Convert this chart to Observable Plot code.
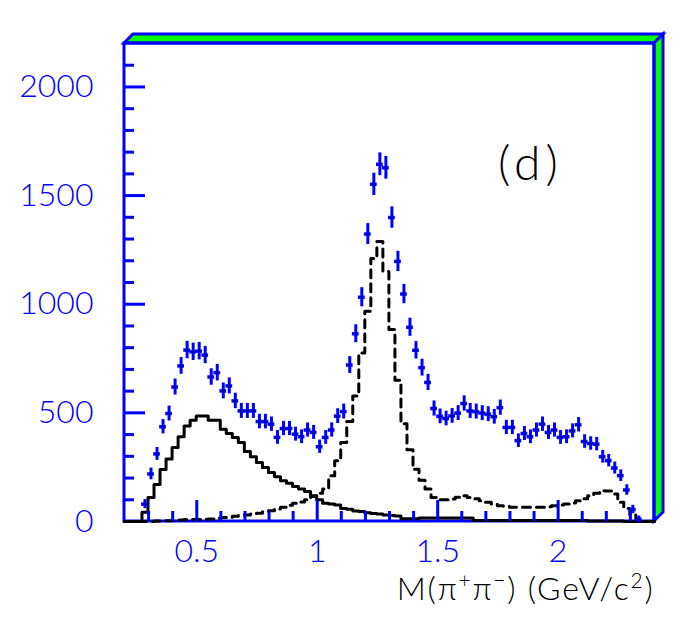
<!DOCTYPE html>
<html><head><meta charset="utf-8">
<script src="https://cdn.jsdelivr.net/npm/d3@7"></script>
<script src="https://cdn.jsdelivr.net/npm/@observablehq/plot@0.6"></script>
<style>body{margin:0;background:#fff} svg text{font-weight:300}</style>
</head><body><div id="chart"></div>
<script>
// bin centres (GeV/c^2), 0.025 GeV bins
const massCenters = [0.285, 0.31, 0.335, 0.36, 0.385, 0.41, 0.435, 0.46, 0.485, 0.51,
  0.535, 0.56, 0.585, 0.61, 0.635, 0.66, 0.685, 0.71, 0.735, 0.76,
  0.785, 0.81, 0.835, 0.86, 0.885, 0.91, 0.935, 0.96, 0.985, 1.01,
  1.035, 1.06, 1.085, 1.11, 1.135, 1.16, 1.185, 1.21, 1.235, 1.26,
  1.285, 1.31, 1.335, 1.36, 1.385, 1.41, 1.435, 1.46, 1.485, 1.51,
  1.535, 1.56, 1.585, 1.61, 1.635, 1.66, 1.685, 1.71, 1.735, 1.76,
  1.785, 1.81, 1.835, 1.86, 1.885, 1.91, 1.935, 1.96, 1.985, 2.01,
  2.035, 2.06, 2.085, 2.11, 2.135, 2.16, 2.185, 2.21, 2.235, 2.26,
  2.285, 2.31, 2.335];
// data (blue points)
const dataCounts = [80, 219, 311, 436, 497, 619, 716, 789, 781, 784,
  766, 665, 685, 601, 624, 555, 509, 509, 509, 460,
  460, 448, 387, 428, 428, 402, 390, 421, 410, 344,
  387, 421, 485, 506, 720, 864, 1032, 1323, 1552, 1644,
  1628, 1399, 1197, 1047, 894, 788, 708, 640, 520, 484,
  474, 486, 499, 543, 509, 506, 499, 494, 482, 524,
  433, 433, 372, 405, 390, 421, 448, 410, 421, 387,
  390, 417, 445, 368, 359, 356, 298, 280, 246, 211,
  145, 55, 10];
// solid histogram
const solidHist = [43, 111, 170, 239, 288, 341, 390, 440, 466, 486,
  486, 466, 466, 425, 405, 387, 364, 322, 298, 272,
  249, 226, 206, 188, 176, 161, 150, 138, 118, 100,
  84, 80, 76, 60, 56, 48, 46, 40, 37, 35,
  30, 28, 25, 13, 13, 13, 16, 16, 16, 16,
  16, 16, 16, 16, 16, 5, 5, 5, 5, 5,
  5, 5, 5, 5, 5, 5, 5, 5, 5, 5,
  5, 5, 5, 5, 2, 2, 2, 2, 2, 2,
  0, 0, 0];
// dashed histogram
const dashedHist = [0, 0, 2, 3, 4, 5, 7, 9, 9, 9,
  10, 12, 15, 18, 20, 24, 28, 30, 35, 38,
  45, 50, 58, 66, 75, 84, 90, 100, 115, 130,
  150, 210, 280, 364, 460, 578, 776, 968, 1210, 1289,
  1151, 884, 650, 450, 330, 240, 190, 150, 110, 100,
  100, 103, 112, 119, 110, 105, 95, 89, 80, 73,
  70, 66, 66, 66, 66, 66, 66, 68, 73, 76,
  81, 85, 95, 105, 119, 130, 142, 140, 127, 89,
  60, 30, 10];

const xMajorTicks = [0.5, 1, 1.5, 2];
const xMinorTicks = [0.3, 0.4, 0.6, 0.7, 0.8, 0.9, 1.1, 1.2, 1.3, 1.4, 1.6, 1.7, 1.8, 1.9, 2.1, 2.2, 2.3];
const yMajorTicks = [500, 1000, 1500, 2000];
const yLabelTicks = [0, 500, 1000, 1500, 2000];
const yMinorTicks = [100, 200, 300, 400, 600, 700, 800, 900, 1100, 1200, 1300, 1400, 1600, 1700, 1800, 1900, 2100];
const xLabel = "M(π+π−) (GeV/c2)";
const panelLabel = "(d)";

const BLUE = "#0000ff", GREEN = "#00ff00";
const halfBin = 0.0125;
const points = massCenters.map((m, i) => ({m, n: dataCounts[i]}));
function steps(vals) {
  const pts = [{x: 0.2, y: 0}];
  vals.forEach((v, i) => pts.push({x: massCenters[i] - halfBin, y: v}));
  pts.push({x: massCenters[massCenters.length - 1] + halfBin, y: 0});
  pts.push({x: 2.4, y: 0});
  return pts;
}

function frameBands(index, scales, values, dims) {
  const x0 = dims.marginLeft, x1 = dims.width - dims.marginRight;
  const y0 = dims.marginTop, y1 = dims.height - dims.marginBottom;
  const d = 9;
  const g = d3.create("svg:g").attr("fill", GREEN).attr("stroke", BLUE).attr("stroke-width", 3);
  g.append("path").attr("d", `M${x0},${y0}L${x0 + d},${y0 - d}L${x1 + d},${y0 - d}L${x1},${y0}Z`);
  g.append("path").attr("d", `M${x1},${y0}L${x1 + d},${y0 - d}L${x1 + d},${y1 - d}L${x1},${y1}Z`);
  return g.node();
}
function frameRect(index, scales, values, dims) {
  const x0 = dims.marginLeft, x1 = dims.width - dims.marginRight;
  const y0 = dims.marginTop, y1 = dims.height - dims.marginBottom;
  return d3.create("svg:rect").attr("x", x0).attr("y", y0).attr("width", x1 - x0).attr("height", y1 - y0)
    .attr("fill", "none").attr("stroke", BLUE).attr("stroke-width", 3).node();
}

const plot = Plot.plot({
  width: 681, height: 630,
  marginLeft: 124, marginRight: 27, marginTop: 43, marginBottom: 109,
  x: {domain: [0.2, 2.4]},
  y: {domain: [0, 2200]},
  style: {fontFamily: "Lato, Liberation Sans, sans-serif", background: "white"},
  marks: [
    frameBands,
    frameRect,
    Plot.line(steps(solidHist), {x: "x", y: "y", curve: "step-after", stroke: "black", strokeWidth: 3}),
    Plot.line(steps(dashedHist), {x: "x", y: "y", curve: "step-after", stroke: "black", strokeWidth: 3, strokeDasharray: "8,6"}),
    Plot.axisX(xMinorTicks, {tickSize: -10, stroke: BLUE, strokeWidth: 3, fill: "none", label: null}),
    Plot.axisX(xMajorTicks, {tickSize: -21, stroke: BLUE, strokeWidth: 3, fill: "none", label: null}),
    Plot.axisY(yMinorTicks, {tickSize: -10, stroke: BLUE, strokeWidth: 3, fill: "none", label: null}),
    Plot.axisY(yMajorTicks, {tickSize: -21, stroke: BLUE, strokeWidth: 3, fill: "none", label: null}),
    Plot.axisX(xMajorTicks, {tickSize: 0, tickPadding: 18, fill: BLUE, fontSize: 32, label: null, tickFormat: d => String(d)}),
    Plot.axisY(yLabelTicks, {tickSize: 0, tickPadding: 31, fill: BLUE, fontSize: 32, label: null, tickFormat: d => String(d)}),
    Plot.ruleX(points, {x: "m", y1: d => d.n - Math.sqrt(d.n) - 12, y2: d => d.n + Math.sqrt(d.n) + 12, stroke: BLUE, strokeWidth: 3}),
    Plot.ruleY(points, {y: "n", x1: d => d.m - 0.014, x2: d => d.m + 0.014, stroke: BLUE, strokeWidth: 3.5}),
    Plot.dot(points, {x: "m", y: "n", r: 0.8, fill: "black"}),
    Plot.text([panelLabel], {text: d => d, frameAnchor: "top-right", dx: -124, dy: 102, fontSize: 48, fill: "black", textAnchor: "middle"}),
    Plot.text([xLabel], {text: d => d, frameAnchor: "bottom-right", dy: 78, fontSize: 32, fill: "black", textAnchor: "end"})
  ]
});

// superscripts in the axis label
d3.select(plot).selectAll("text").filter(function () { return this.textContent === xLabel; })
  .style("letter-spacing", "1.8px")
  .each(function () {
    const t = d3.select(this);
    t.text(null);
    const parts = [["M(π", false], ["+", true], ["π", false], ["−", true], [") (GeV/c", false], ["2", true], [")", false]];
    for (const [s, sup] of parts) {
      const ts = t.append("tspan").text(s);
      if (sup) ts.attr("baseline-shift", "super").attr("font-size", "65%");
    }
  });
d3.select(plot).selectAll("text").filter(function () { return this.textContent === panelLabel; })
  .style("letter-spacing", "5px");

document.getElementById("chart").appendChild(plot);
</script>
</body></html>
